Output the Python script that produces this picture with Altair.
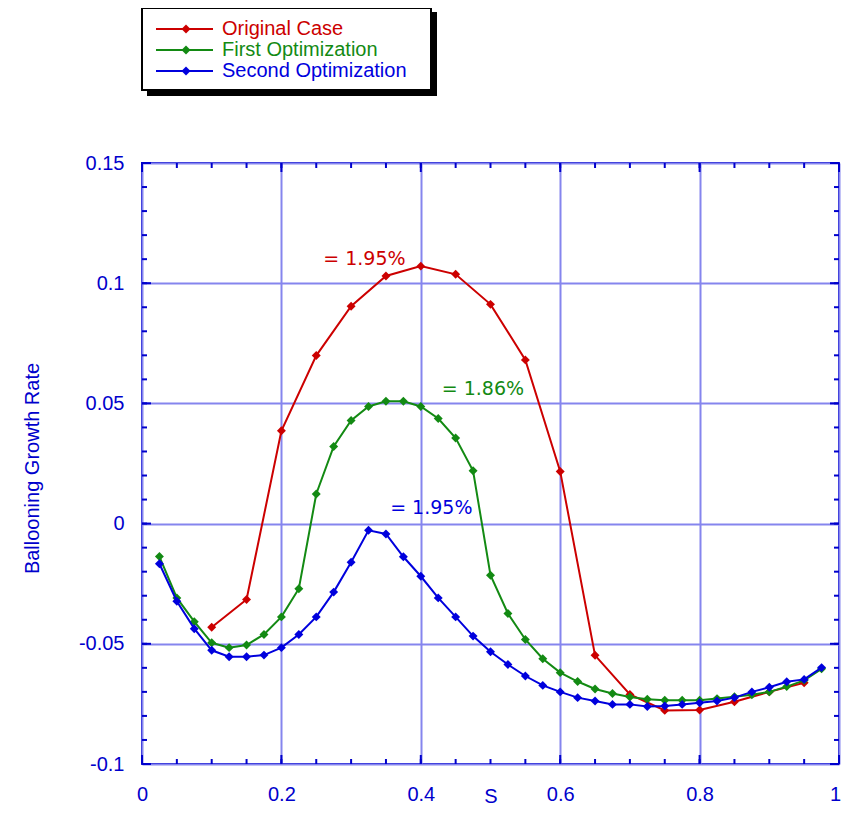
import altair as alt
import pandas as pd

# ---------------- data ----------------
series_names = ["Original Case", "First Optimization", "Second Optimization"]
series_colors = ["#CC0000", "#138A13", "#0000DD"]

orig_s = [0.10, 0.15, 0.20, 0.25, 0.30, 0.35, 0.40, 0.45, 0.50, 0.55, 0.60,
          0.65, 0.70, 0.75, 0.80, 0.85, 0.90, 0.95]
orig_g = [-0.0431, -0.0316, 0.0386, 0.0699, 0.0904, 0.1030, 0.1071, 0.1037,
          0.0912, 0.0681, 0.0217, -0.0548, -0.0711, -0.0777, -0.0775, -0.0741,
          -0.0700, -0.0662]

first_s = [0.025, 0.05, 0.075, 0.10, 0.125, 0.15, 0.175, 0.20, 0.225, 0.25,
           0.275, 0.30, 0.325, 0.35, 0.375, 0.40, 0.425, 0.45, 0.475, 0.50,
           0.525, 0.55, 0.575, 0.60, 0.625, 0.65, 0.675, 0.70, 0.725, 0.75,
           0.775, 0.80, 0.825, 0.85, 0.875, 0.90, 0.925, 0.95, 0.975]
first_g = [-0.0137, -0.0309, -0.0408, -0.0496, -0.0516, -0.0505, -0.0461,
           -0.0388, -0.0271, 0.0123, 0.0321, 0.0429, 0.0487, 0.0509, 0.0509,
           0.0487, 0.0437, 0.0356, 0.0220, -0.0215, -0.0374, -0.0482, -0.0562,
           -0.0620, -0.0657, -0.0688, -0.0707, -0.0721, -0.0731, -0.0735,
           -0.0735, -0.0735, -0.0728, -0.0720, -0.0712, -0.0700, -0.0678,
           -0.0652, -0.0604]

second_s = list(first_s)
second_g = [-0.0167, -0.0323, -0.0437, -0.0527, -0.0554, -0.0554, -0.0547,
            -0.0516, -0.0461, -0.0388, -0.0285, -0.0161, -0.0028, -0.0043,
            -0.0138, -0.0219, -0.0309, -0.0388, -0.0468, -0.0533, -0.0586,
            -0.0634, -0.0673, -0.0700, -0.0724, -0.0738, -0.0752, -0.0752,
            -0.0761, -0.0759, -0.0752, -0.0745, -0.0738, -0.0724, -0.0700,
            -0.0681, -0.0658, -0.0648, -0.0599]

annot_text = ["= 1.95%", "= 1.86%", "= 1.95%"]
annot_x = [0.260, 0.430, 0.356]
annot_y = [0.110, 0.056, 0.0065]

x_major = [0, 0.2, 0.4, 0.6, 0.8, 1]
y_major = [-0.1, -0.05, 0, 0.05, 0.1, 0.15]
x_minor = [round(i * 0.05, 2) for i in range(1, 20)]
y_minor = [round(-0.1 + i * 0.01, 2) for i in range(1, 25)]

# ---------------- layout ----------------
W, H = 697, 601
AX = "#0000CC"
GRID = "#8585EE"
FONT = "Liberation Sans"
PT = 80

xs = alt.Scale(domain=[0, 1], nice=False, zero=False)
ys = alt.Scale(domain=[-0.1, 0.15], nice=False, zero=False)

x_axis = alt.Axis(values=x_major, labelExpr="datum.value + ''", grid=True,
                  gridColor=GRID, gridWidth=2, ticks=False, domain=False,
                  labelColor=AX, labelFont=FONT, labelFontSize=20, labelPadding=20,
                  labelBound=False, labelOverlap=False, labelFlush=False,
                  labelOffset={"condition": {"test": "datum.value == 1", "value": -4},
                               "value": 0},
                  title="S", titleColor=AX, titleFont=FONT, titleFontSize=20,
                  titleFontWeight="normal", titleX=W / 2, titleY=32,
                  titleBaseline="middle", titleAlign="center")
y_axis = alt.Axis(values=y_major, labelExpr="datum.value + ''", grid=True,
                  gridColor=GRID, gridWidth=2, ticks=False, domain=False,
                  labelColor=AX, labelFont=FONT, labelFontSize=20, labelPadding=18,
                  labelBound=False, labelOverlap=False, labelFlush=False,
                  title="Ballooning Growth Rate", titleColor=AX, titleFont=FONT,
                  titleFontSize=20, titleFontWeight="normal", titleX=-110,
                  titleY=305, titleAngle=-90, titleBaseline="middle",
                  titleAlign="center")

X = alt.X("x:Q", scale=xs, axis=x_axis)
Y = alt.Y("y:Q", scale=ys, axis=y_axis)

rows = []
for name, sx, sg in [(series_names[0], orig_s, orig_g),
                     (series_names[1], first_s, first_g),
                     (series_names[2], second_s, second_g)]:
    for a, b in zip(sx, sg):
        rows.append({"series": name, "x": a, "y": b})
df = pd.DataFrame(rows)

color = alt.Color("series:N", scale=alt.Scale(domain=series_names, range=series_colors),
                  legend=None)

layers = []

# tick marks (inward) on all four sides
def tick_layers(vals, length, axis_ch):
    d = pd.DataFrame({"x": vals, "y": vals})
    out = []
    if axis_ch == "x":
        out.append(alt.Chart(d).mark_rule(color=AX, strokeWidth=2).encode(
            x=X, y=alt.value(H), y2=alt.value(H - length)))
        out.append(alt.Chart(d).mark_rule(color=AX, strokeWidth=2).encode(
            x=X, y=alt.value(0), y2=alt.value(length)))
    else:
        out.append(alt.Chart(d).mark_rule(color=AX, strokeWidth=2).encode(
            y=Y, x=alt.value(0), x2=alt.value(length)))
        out.append(alt.Chart(d).mark_rule(color=AX, strokeWidth=2).encode(
            y=Y, x=alt.value(W), x2=alt.value(W - length)))
    return out

layers += tick_layers(x_minor, 5, "x")
layers += tick_layers(x_major, 9, "x")
layers += tick_layers(y_minor, 5, "y")
layers += tick_layers(y_major, 9, "y")

for i, name in enumerate(series_names):
    sub = df[df["series"] == name]
    layers.append(alt.Chart(sub).mark_line(strokeWidth=2).encode(
        x=X, y=Y, color=color))
    layers.append(alt.Chart(sub).mark_point(shape="diamond", filled=True, size=PT,
                                            opacity=1).encode(x=X, y=Y, color=color))

adf = pd.DataFrame({"x": annot_x, "y": annot_y, "text": annot_text,
                    "series": series_names})
layers.append(alt.Chart(adf).mark_text(font="DejaVu Sans", fontSize=19, align="left",
                                       baseline="middle").encode(
    x=X, y=Y, text="text:N", color=color))

# legend box (drawn manually)
one = pd.DataFrame({"k": [0]})
layers.append(alt.Chart(one).mark_rect(color="black").encode(
    x=alt.value(5), x2=alt.value(295), y=alt.value(-151), y2=alt.value(-67)))
layers.append(alt.Chart(one).mark_rect(fill="white", stroke="black", strokeWidth=2).encode(
    x=alt.value(0), x2=alt.value(289), y=alt.value(-155), y2=alt.value(-73)))
for i, name in enumerate(series_names):
    yy = -134 + i * 21
    c = series_colors[i]
    layers.append(alt.Chart(one).mark_rule(color=c, strokeWidth=2).encode(
        x=alt.value(14), x2=alt.value(71), y=alt.value(yy)))
    layers.append(alt.Chart(one).mark_point(shape="diamond", filled=True, size=PT,
                                            color=c, opacity=1).encode(
        x=alt.value(44), y=alt.value(yy)))
    layers.append(alt.Chart(one).mark_text(text=name, color=c, font=FONT, fontSize=20,
                                           align="left", baseline="middle").encode(
        x=alt.value(80), y=alt.value(yy)))

chart = alt.layer(*layers).properties(
    width=W, height=H,
    autosize=alt.AutoSizeParams(type="none"),
    padding={"left": 134, "top": 155, "right": 2, "bottom": 44},
).configure_view(stroke=AX, strokeWidth=2)

chart.save("out.html", embed_options={"renderer": "svg", "actions": False})
